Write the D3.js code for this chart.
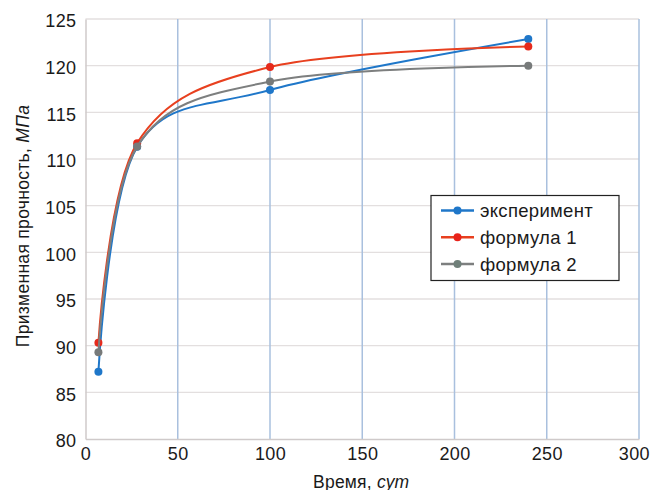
<!DOCTYPE html>
<html>
<head>
<meta charset="utf-8">
<script src="https://cdn.jsdelivr.net/npm/d3@7"></script>
<style>
  html, body { margin: 0; padding: 0; background: #fff; }
  svg { display: block; font-family: "Liberation Sans", Arial, sans-serif; }
</style>
</head>
<body>
<svg id="chart" width="650" height="490"></svg>
<script>
// Age of specimens, days
const days = [7, 28, 100, 240];
// Prism strength, MPa
const experiment = [87.2, 111.3, 117.4, 122.85];
const formula1 = [90.3, 111.7, 119.85, 122.05];
const formula2 = [89.3, 111.35, 118.3, 120.0];

const seriesNames = ["эксперимент", "формула 1", "формула 2"];
const seriesColors = ["#1f77c9", "#e8401f", "#7d7f7f"];
const markerColors = ["#1f77c9", "#e62a1c", "#777a7a"];
const legendMarkerColors = ["#1f77c9", "#e8221a", "#6f7f79"];

const xTicks = [0, 50, 100, 150, 200, 250, 300];
const yTicks = [80, 85, 90, 95, 100, 105, 110, 115, 120, 125];

const svg = d3.select("#chart");
const plotL = 85.5, plotR = 639, plotT = 19, plotB = 439;

const x = d3.scaleLinear().domain([0, 300]).range([plotL, plotR]);
const y = d3.scaleLinear().domain([80, 125]).range([plotB, plotT]);

// horizontal grid
svg.append("g").selectAll("line")
  .data(yTicks.filter(v => v > 80))
  .join("line")
  .attr("x1", plotL).attr("x2", plotR)
  .attr("y1", d => y(d)).attr("y2", d => y(d))
  .attr("stroke", "#e3dfdf").attr("stroke-width", 1.3);

// vertical grid
svg.append("g").selectAll("line")
  .data(xTicks.filter(v => v > 0))
  .join("line")
  .attr("x1", d => x(d)).attr("x2", d => x(d))
  .attr("y1", plotT).attr("y2", plotB)
  .attr("stroke", "#a9c0de").attr("stroke-width", 1.5);

// axes
const xAxis = svg.append("g")
  .attr("transform", `translate(0,${plotB})`)
  .call(d3.axisBottom(x).tickValues(xTicks).tickSize(0).tickPadding(8));
const yAxis = svg.append("g")
  .attr("transform", `translate(${plotL},0)`)
  .call(d3.axisLeft(y).tickValues(yTicks).tickSize(0).tickPadding(9));
[xAxis, yAxis].forEach(g => {
  g.select(".domain").attr("stroke", "#cfcaca").attr("stroke-width", 1.5);
  g.selectAll("text")
    .attr("font-family", "Liberation Sans, Arial, sans-serif")
    .attr("font-size", 18)
    .attr("letter-spacing", 0.4)
    .attr("fill", "#1a1a1a");
});
xAxis.selectAll("text").attr("dy", "0.71em");
yAxis.selectAll("text").attr("dy", "0.44em");
// keep the last x label inside the frame
xAxis.selectAll(".tick").filter(d => d === 300).select("text")
  .attr("text-anchor", "end").attr("x", 10.5);

// axis titles
const xt = svg.append("text")
  .attr("x", (plotL + plotR) / 2 - 1).attr("y", 487.5)
  .attr("text-anchor", "middle")
  .attr("font-size", 17.5).attr("letter-spacing", 0.2).attr("fill", "#1a1a1a");
xt.append("tspan").text("Время, ");
xt.append("tspan").attr("font-style", "italic").text("сут");

const yt = svg.append("text")
  .attr("transform", `translate(29,${(plotT + plotB) / 2 - 3}) rotate(-90)`)
  .attr("text-anchor", "middle")
  .attr("font-size", 17.5).attr("letter-spacing", 0.3).attr("fill", "#1a1a1a");
yt.append("tspan").text("Призменная прочность, ");
yt.append("tspan").attr("font-style", "italic").text("МПа");

// series
const allSeries = [experiment, formula1, formula2];
const line = d3.line()
  .x(d => x(d[0])).y(d => y(d[1]))
  .curve(d3.curveCardinal.tension(0));

allSeries.forEach((vals, i) => {
  const pts = days.map((d, j) => [d, vals[j]]);
  const g = svg.append("g");
  g.append("path")
    .attr("d", line(pts))
    .attr("fill", "none")
    .attr("stroke", seriesColors[i])
    .attr("stroke-width", 2);
  g.selectAll("circle")
    .data(pts)
    .join("circle")
    .attr("cx", d => x(d[0])).attr("cy", d => y(d[1]))
    .attr("r", 4)
    .attr("fill", markerColors[i]);
});

// legend
const lg = svg.append("g");
lg.append("rect")
  .attr("x", 431).attr("y", 195.5)
  .attr("width", 188).attr("height", 85)
  .attr("fill", "#fff").attr("stroke", "#222").attr("stroke-width", 1.2);
seriesNames.forEach((name, i) => {
  const cy = 210.5 + i * 26.7;
  lg.append("line")
    .attr("x1", 441).attr("x2", 474)
    .attr("y1", cy).attr("y2", cy)
    .attr("stroke", seriesColors[i]).attr("stroke-width", 2.5);
  lg.append("circle")
    .attr("cx", 457.5).attr("cy", cy).attr("r", 4)
    .attr("fill", legendMarkerColors[i]);
  lg.append("text")
    .attr("x", 480).attr("y", cy)
    .attr("dy", "0.36em")
    .attr("font-size", 18.5).attr("letter-spacing", 0.3).attr("fill", "#1a1a1a")
    .text(name);
});
</script>
</body>
</html>
